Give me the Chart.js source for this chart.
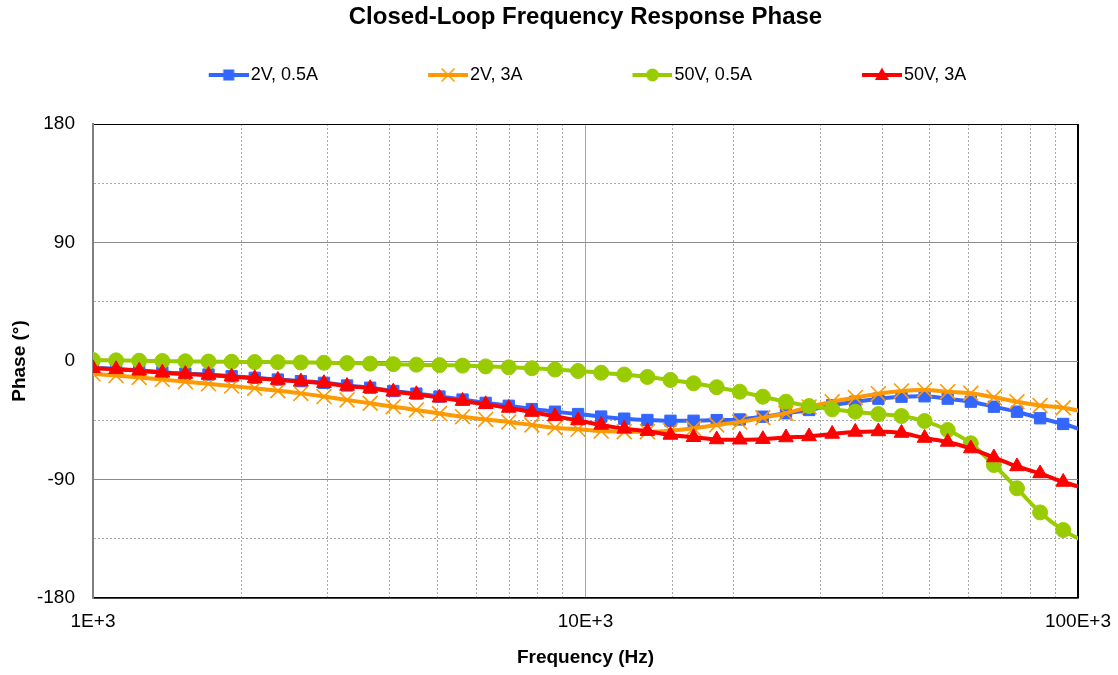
<!DOCTYPE html>
<html>
<head>
<meta charset="utf-8">
<title>Closed-Loop Frequency Response Phase</title>
<script src="https://cdn.jsdelivr.net/npm/chart.js@4.4.1/dist/chart.umd.min.js"></script>
<style>
    html, body { margin: 0; padding: 0; background: #fff; }
</style>
</head>
<body>
<canvas id="myChart" width="1118" height="675"></canvas>
<script>
// frequency points (Hz)
var freqs = [1000, 1114, 1241, 1383, 1540, 1716, 1912, 2130, 2373, 2643,
    2944, 3280, 3654, 4071, 4535, 5052, 5628, 6270, 6985, 7782,
    8670, 9658, 10760, 11987, 13354, 14877, 16574, 18465, 20570, 22917,
    25530, 28442, 31687, 35300, 39327, 43813, 48810, 54377, 60580, 67490,
    75188, 83765, 93318, 103960];

// phase in degrees
var phase2V05A = [-5.2, -6.0, -7.1, -8.6, -9.6, -10.3, -11.6, -12.8, -14.1, -15.3,
    -16.6, -18.6, -20.3, -22.8, -24.8, -27.0, -29.3, -31.8, -34.0, -36.5,
    -38.5, -40.3, -42.2, -43.8, -44.8, -45.4, -45.4, -44.9, -44.4, -42.3,
    -39.7, -37.2, -33.6, -30.9, -28.6, -27.1, -26.8, -28.6, -30.9, -34.7,
    -38.5, -43.5, -47.8, -53.5];
var phase2V3A = [-9.7, -11.1, -12.5, -14.1, -15.7, -17.3, -19.0, -20.7, -22.6, -24.6,
    -27.0, -29.6, -32.1, -34.7, -37.2, -39.9, -42.3, -44.4, -46.3, -48.6,
    -50.7, -51.9, -53.2, -53.7, -53.7, -52.9, -51.1, -48.6, -46.4, -43.1,
    -39.7, -34.9, -31.0, -27.7, -24.8, -22.7, -22.0, -23.3, -24.5, -27.6,
    -30.9, -33.8, -35.5, -39.0];
var phase50V05A = [0.8, 0.5, 0.2, 0.0, -0.2, -0.4, -0.6, -0.8, -0.9, -1.1,
    -1.3, -1.6, -2.0, -2.4, -2.8, -3.1, -3.5, -4.1, -4.8, -5.5,
    -6.5, -7.6, -8.9, -10.3, -12.1, -14.4, -16.9, -19.9, -23.3, -27.1,
    -30.9, -34.2, -36.7, -38.5, -40.3, -41.8, -45.6, -52.4, -62.5, -79.0,
    -96.7, -115.0, -128.4, -138.0];
var phase50V3A = [-5.5, -6.3, -7.4, -8.9, -9.9, -10.6, -11.9, -13.1, -14.4, -15.6,
    -16.9, -19.0, -20.7, -23.3, -25.3, -27.9, -30.4, -32.9, -35.7, -38.8,
    -42.0, -45.2, -48.6, -51.5, -53.3, -56.2, -57.9, -59.6, -59.8, -59.4,
    -58.1, -57.3, -55.4, -53.9, -53.5, -54.7, -58.5, -61.5, -66.5, -73.3,
    -80.1, -85.4, -91.9, -97.0];

var seriesNames = ['2V, 0.5A', '2V, 3A', '50V, 0.5A', '50V, 3A'];
var seriesColors = ['#3366FF', '#FF9900', '#99CC00', '#FF0000'];
var seriesMarkers = ['rect', 'crossRot', 'circle', 'triangle'];

var xTickLabels = { 1000: '1E+3', 10000: '10E+3', 100000: '100E+3' };
var yTickLabels = [-180, -90, 0, 90, 180];

Chart.defaults.font.family = "'Liberation Sans', Arial, sans-serif";
Chart.defaults.color = '#000';

// legend symbol: line with the marker in the middle, right-aligned in a wide transparent canvas
function legendIcon(color, style) {
    var c = document.createElement('canvas');
    c.width = 144;
    c.height = 18;
    var g = c.getContext('2d');
    g.strokeStyle = color;
    g.fillStyle = color;
    g.lineWidth = 4;
    g.beginPath();
    g.moveTo(104, 9);
    g.lineTo(144, 9);
    g.stroke();
    var cx = 124, cy = 9;
    if (style === 'rect') {
        g.fillRect(cx - 5.5, cy - 5.5, 11, 11);
    } else if (style === 'circle') {
        g.beginPath();
        g.arc(cx, cy, 6.5, 0, Math.PI * 2);
        g.fill();
    } else if (style === 'triangle') {
        g.beginPath();
        g.moveTo(cx, cy - 7.5);
        g.lineTo(cx + 7, cy + 5);
        g.lineTo(cx - 7, cy + 5);
        g.closePath();
        g.fill();
    } else {
        g.lineWidth = 1.5;
        g.beginPath();
        g.moveTo(cx - 6.5, cy - 6.5);
        g.lineTo(cx + 6.5, cy + 6.5);
        g.moveTo(cx + 6.5, cy - 6.5);
        g.lineTo(cx - 6.5, cy + 6.5);
        g.stroke();
    }
    return c;
}

var legendIcons = seriesColors.map(function (col, i) {
    return legendIcon(col, seriesMarkers[i]);
});

var values = [phase2V05A, phase2V3A, phase50V05A, phase50V3A];
var markerSize = [8, 10.5, 7.5, 8.5];

var datasets = values.map(function (arr, i) {
    return {
        label: seriesNames[i],
        data: arr,
        borderColor: seriesColors[i],
        backgroundColor: seriesColors[i],
        borderWidth: 4,
        tension: 0.35,
        pointStyle: seriesMarkers[i],
        pointRadius: markerSize[i],
        pointHoverRadius: markerSize[i],
        pointBackgroundColor: seriesColors[i],
        pointBorderColor: seriesColors[i],
        pointBorderWidth: seriesMarkers[i] === 'crossRot' ? 1.6 : 1,
        order: 4 - i,
        clip: 0
    };
});

new Chart('myChart', {
    type: 'line',
    data: {
        labels: freqs,
        datasets: datasets
    },
    options: {
        responsive: false,
        animation: false,
        layout: { padding: { left: 0, right: 40, top: 0, bottom: 0 } },
        plugins: {
            title: {
                display: true,
                text: 'Closed-Loop Frequency Response Phase',
                fullSize: false,
                color: '#000',
                font: { size: 24, weight: 'bold', lineHeight: 1 },
                padding: { top: 5, bottom: 24 }
            },
            // empty spacer between legend and plot
            subtitle: {
                display: true,
                text: ' ',
                weight: 500,
                font: { size: 10, lineHeight: 1 },
                padding: { top: 20, bottom: 0 }
            },
            legend: {
                position: 'top',
                labels: {
                    usePointStyle: true,
                    pointStyleWidth: 130,
                    padding: 13,
                    color: '#000',
                    font: { size: 18 },
                    sort: function (a, b) { return a.datasetIndex - b.datasetIndex; },
                    generateLabels: function (chart) {
                        var items = Chart.defaults.plugins.legend.labels.generateLabels(chart);
                        items.forEach(function (it) {
                            it.pointStyle = legendIcons[it.datasetIndex];
                        });
                        return items;
                    }
                }
            },
            tooltip: { enabled: false }
        },
        scales: {
            x: {
                type: 'logarithmic',
                min: 1000,
                max: 100000,
                afterFit: function (scale) {
                    scale.height = 77;
                    // keep the plot's right edge where the reference has it
                    scale.paddingRight = 34;
                    scale.paddingLeft = 20;
                },
                title: {
                    display: true,
                    text: 'Frequency (Hz)',
                    font: { size: 19, weight: 'bold' },
                    padding: { top: 0, bottom: 6 }
                },
                ticks: {
                    autoSkip: false,
                    maxRotation: 0,
                    padding: 12,
                    font: { size: 19 },
                    callback: function (v) { return xTickLabels[v] || ''; }
                },
                grid: {
                    drawTicks: false,
                    color: function (ctx) {
                        if (!ctx.tick) return '#a8a8a8';
                        return ctx.tick.value === 100000 ? '#000' : '#a8a8a8';
                    },
                    lineWidth: function (ctx) {
                        return ctx.tick && ctx.tick.value === 100000 ? 2 : 1;
                    }
                },
                border: {
                    color: '#000',
                    width: 1.5,
                    dash: function (ctx) {
                        if (!ctx.tick) return [];
                        var v = ctx.tick.value;
                        return (v === 1000 || v === 10000 || v === 100000) ? [] : [2, 2];
                    }
                }
            },
            y: {
                min: -180,
                max: 180,
                afterFit: function (scale) { scale.width = 93; },
                title: {
                    display: true,
                    text: 'Phase (°)',
                    font: { size: 19, weight: 'bold' },
                    padding: { top: 8, bottom: 0 }
                },
                ticks: {
                    stepSize: 45,
                    padding: 18,
                    font: { size: 19 },
                    callback: function (v) {
                        return yTickLabels.indexOf(v) >= 0 ? String(v) : '';
                    }
                },
                grid: {
                    drawTicks: false,
                    color: function (ctx) {
                        if (!ctx.tick) return '#8c8c8c';
                        var v = ctx.tick.value;
                        if (v === 180) return '#000';
                        return v % 90 === 0 ? '#8c8c8c' : '#a8a8a8';
                    }
                },
                border: {
                    color: '#808080',
                    width: 2,
                    dash: function (ctx) {
                        if (!ctx.tick) return [];
                        return ctx.tick.value % 90 === 0 ? [] : [2, 2];
                    }
                }
            }
        }
    }
});
</script>
</body>
</html>
